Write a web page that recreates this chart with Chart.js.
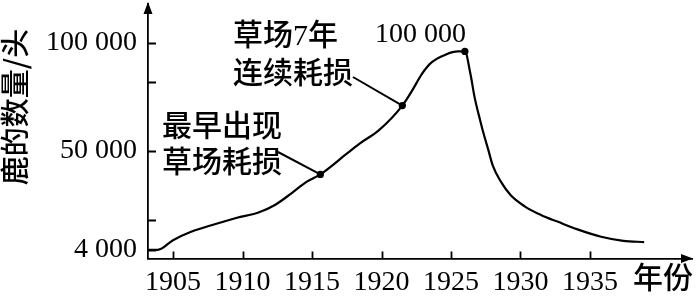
<!DOCTYPE html>
<html>
<head>
<meta charset="utf-8">
<script src="https://cdn.jsdelivr.net/npm/chart.js@4.4.1/dist/chart.umd.min.js"></script>
<style>
  html, body { margin: 0 ; padding: 0 ; background: #ffffff ; }
  #wrap { width: 696px ; height: 299px ; }
</style>
</head>
<body>
<div id="wrap"><canvas id="deerGraph" width="696" height="299"></canvas></div>
<script>

// ---------------- Chart data -------------------------------------------
const YEARS      = [ 1903.2, 1903.9, 1905.0, 1906.3, 1908.0, 1909.6, 1911.1, 1912.3,
                     1913.5, 1914.6, 1915.6, 1917.5, 1918.4, 1919.8, 1921.5, 1922.2,
                     1922.9, 1923.6, 1924.6, 1925.5, 1926.0, 1926.4, 1926.7, 1927.1,
                     1927.3, 1927.7, 1928.0, 1928.6, 1929.3, 1930.3, 1931.5, 1932.7,
                     1934.1, 1935.8, 1937.4, 1938.9 ] ;
const DEER_COUNT = [  4000,   4000,   8500,  12400,  15900,  18900,  21200,  24700,
                     30100,  35500,  39000,  48600,  53200,  59400,  70900,  77800,
                     85500,  90900,  94500,  96000,  96000,  85500,  74700,  64000,
                     59000,  50000,  43200,  35500,  29300,  24200,  20100,  17000,
                     13500,  10100,   8200,   7600 ] ;

const MARK_YEARS    = [ 1915.6, 1921.5, 1926.0 ] ;
const MARK_COUNT    = [ 39000, 70900, 96000 ] ;

const X_TICKS       = [ 1905, 1910, 1915, 1920, 1925, 1930, 1935 ] ;
const Y_LABEL_TICKS = [ 4000, 50000, 100000 ] ;
const Y_MINOR_TICKS = [ 18000, 82000 ] ;

const Y_TITLE    = '鹿的数量/头' ;
const X_TITLE    = '年份' ;
const NOTE_EARLY = [ '最早出现', '草场耗损' ] ;
const NOTE_LATE  = [ '草场7年', '连续耗损' ] ;
const PEAK_LABEL = '100 000' ;

// ---------------- Styles -----------------------------------------------
const INK        = '#000000' ;
const NUM_FONT   = "'Liberation Serif', 'Times New Roman', serif" ;
const CJK_FONT   = "'Liberation Serif', 'Noto Sans CJK SC', sans-serif" ;
const TITLE_FONT = "'Noto Sans CJK SC', sans-serif" ;
const AXIS_WIDTH = 1.8 ;
const TICK_LEN   = 7 ;

function formatCount( v ) {
    return String( v ).replace( /\B(?=(\d{3})+(?!\d))/g, ' ' ) ;
}

// Inner ticks, arrow heads, notes and leader lines
const decorPlugin = {
    id : 'decor',
    afterDraw : function( chart ) {
        const ctx  = chart.ctx ;
        const xs   = chart.scales.x ;
        const ys   = chart.scales.y ;
        const area = chart.chartArea ;

        ctx.save() ;
        ctx.strokeStyle = INK ;
        ctx.fillStyle   = INK ;
        ctx.lineWidth   = AXIS_WIDTH ;

        ctx.beginPath() ;
        for( var i=0; i<X_TICKS.length; i++ ) {
            var px = Math.round( xs.getPixelForValue( X_TICKS[i] ) ) + 0.5 ;
            ctx.moveTo( px, area.bottom ) ;
            ctx.lineTo( px, area.bottom - TICK_LEN ) ;
        }
        var yt = Y_LABEL_TICKS.concat( Y_MINOR_TICKS ) ;
        for( var i=0; i<yt.length; i++ ) {
            var py = Math.round( ys.getPixelForValue( yt[i] ) ) + 0.5 ;
            ctx.moveTo( area.left, py ) ;
            ctx.lineTo( area.left + TICK_LEN + 1, py ) ;
        }
        ctx.stroke() ;

        // arrow heads
        ctx.beginPath() ;
        ctx.moveTo( area.left, area.top - 2 ) ;
        ctx.lineTo( area.left - 4.5, area.top + 10 ) ;
        ctx.lineTo( area.left + 4.5, area.top + 10 ) ;
        ctx.closePath() ;
        ctx.moveTo( area.right + 1, area.bottom ) ;
        ctx.lineTo( area.right - 11, area.bottom - 4.5 ) ;
        ctx.lineTo( area.right - 11, area.bottom + 4.5 ) ;
        ctx.closePath() ;
        ctx.fill() ;

        // leader lines
        ctx.lineWidth = 2 ;
        ctx.beginPath() ;
        ctx.moveTo( 278, 152 ) ;
        ctx.lineTo( xs.getPixelForValue( MARK_YEARS[0] ), ys.getPixelForValue( MARK_COUNT[0] ) ) ;
        ctx.moveTo( 353, 77 ) ;
        ctx.lineTo( xs.getPixelForValue( MARK_YEARS[1] ), ys.getPixelForValue( MARK_COUNT[1] ) ) ;
        ctx.stroke() ;

        // notes
        ctx.textBaseline = 'middle' ;
        ctx.textAlign    = 'left' ;
        ctx.font = '500 30px ' + CJK_FONT ;
        ctx.fillText( NOTE_LATE[0],  233, 37 ) ;
        ctx.fillText( NOTE_LATE[1],  233, 75 ) ;
        ctx.fillText( NOTE_EARLY[0], 162, 128 ) ;
        ctx.fillText( NOTE_EARLY[1], 162, 164 ) ;
        ctx.fillText( X_TITLE, 633, 280 ) ;

        ctx.font = '28px ' + NUM_FONT ;
        ctx.textAlign = 'right' ;
        ctx.fillText( PEAK_LABEL, xs.getPixelForValue( MARK_YEARS[2] ) + 1, 35 ) ;

        // y axis title
        ctx.translate( 15, 107 ) ;
        ctx.rotate( -Math.PI / 2 ) ;
        ctx.textAlign = 'center' ;
        ctx.font = '500 29px ' + TITLE_FONT ;
        ctx.fillText( Y_TITLE, 0, 0 ) ;
        ctx.restore() ;
    }
} ;

const curveData = YEARS.map( function( yr, i ) { return { x : yr, y : DEER_COUNT[i] } ; } ) ;
const markData  = MARK_YEARS.map( function( yr, i ) { return { x : yr, y : MARK_COUNT[i] } ; } ) ;

const chart = new Chart( document.getElementById( 'deerGraph' ), {
    type : 'line',
    data : {
        datasets : [
            {
                type             : 'scatter',
                data             : markData,
                backgroundColor  : INK,
                borderColor      : INK,
                pointRadius      : 3.6,
                borderWidth      : 0,
            },
            {
                type                   : 'line',
                data                   : curveData,
                borderColor            : INK,
                borderWidth            : 2.2,
                pointRadius            : 0,
                fill                   : false,
                cubicInterpolationMode : 'monotone',
            },
        ]
    },
    options : {
        responsive       : false,
        animation        : false,
        devicePixelRatio : 1,
        layout : { padding : { top : 3, right : 1, left : 0, bottom : 0 } },
        plugins : {
            legend  : { display : false },
            tooltip : { enabled : false },
        },
        scales : {
            x : {
                type : 'linear',
                min  : 1903.2,
                max  : 1942.34,
                afterBuildTicks : function( s ) {
                    s.ticks = X_TICKS.map( function( v ) { return { value : v } ; } ) ;
                },
                afterFit : function( s ) {
                    s.height = 40.5 ;
                    s.paddingLeft = 0 ;
                    s.paddingRight = 0 ;
                },
                grid   : { drawOnChartArea : false, drawTicks : false },
                border : { display : true, color : INK, width : AXIS_WIDTH },
                ticks  : {
                    autoSkip    : false,
                    maxRotation : 0,
                    padding     : 7,
                    color       : INK,
                    font        : { family : NUM_FONT, size : 28 },
                    callback    : function( v ) { return String( v ) ; }
                }
            },
            y : {
                type : 'linear',
                min  : 0,
                max  : 118000,
                afterBuildTicks : function( s ) {
                    s.ticks = Y_LABEL_TICKS.map( function( v ) { return { value : v } ; } ) ;
                },
                afterFit : function( s ) {
                    s.width = 148 ;
                    s.paddingTop = 0 ;
                    s.paddingBottom = 0 ;
                },
                grid   : { drawOnChartArea : false, drawTicks : false },
                border : { display : true, color : INK, width : AXIS_WIDTH },
                ticks  : {
                    padding  : 11,
                    color    : INK,
                    font     : { family : NUM_FONT, size : 28 },
                    callback : function( v ) { return formatCount( v ) ; }
                }
            }
        }
    },
    plugins : [ decorPlugin ]
} ) ;
</script>
</body>
</html>
